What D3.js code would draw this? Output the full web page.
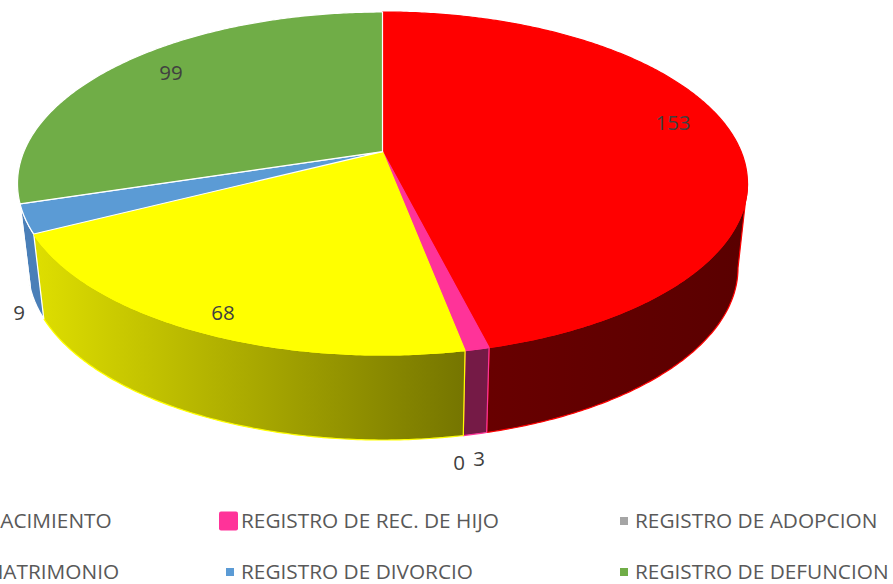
<!DOCTYPE html>
<html lang="es">
<head>
  <meta charset="UTF-8">
  <title>Registros</title>
  <script src="https://d3js.org/d3.v7.min.js" charset="utf-8"></script>
  <style>
    html, body { margin: 0; padding: 0; background: #fff; overflow: hidden; }
    text { font-family: "Open Sans", sans-serif; }
  </style>
</head>
<body>
  <div id="wrapper"></div>
  <script>
    const categories = [
      'REGISTRO DE NACIMIENTO',
      'REGISTRO DE REC. DE HIJO',
      'REGISTRO DE ADOPCION',
      'REGISTRO DE MATRIMONIO',
      'REGISTRO DE DIVORCIO',
      'REGISTRO DE DEFUNCION',
    ]
    const values = [153, 3, 0, 68, 9, 99]

    const topColors = ['#ff0000', '#ff3399', '#a5a5a5', '#ffff00', '#5b9bd5', '#70ad47']
    const edgeColors = ['#ff0000', '#ff3399', '#a5a5a5', '#ffff00', '#ffffff', '#ffffff']
    const sideStops = [
      ['#5a0000', '#680000'],
      ['#751a46', '#751a46'],
      ['#666666', '#666666'],
      ['#dddd00', '#757500'],
      ['#4a7fb8', '#4a7fb8'],
      ['#4c7a30', '#4c7a30'],
    ]

    const width = 893
    const height = 584

    // the tilted disc: the apex is not the middle of the ellipse
    const tilt = 0.186
    const topFace = { cx: 382.5, cy: 183.5, rx: 365, ry: 171.5 }
    const bottomFace = { cx: 383, cy: 268, rx: 355, ry: 172 }

    const project = (face, angle) => {
      const u = Math.sin(angle)
      const v = Math.cos(angle)
      const w = 1 + tilt * v
      return [
        face.cx + face.rx * u * Math.sqrt(1 - tilt * tilt) / w,
        face.cy - face.ry * (v + tilt) / w,
      ]
    }

    const arcPoints = (face, start, end) => {
      const n = Math.max(2, Math.ceil(Math.abs(end - start) / 0.01))
      return d3.range(n + 1).map(i => project(face, start + (end - start) * i / n))
    }

    const apex = face => [face.cx, face.cy - face.ry * tilt]
    const line = d3.line().curve(d3.curveLinear)

    const pie = d3.pie().sort(null).value(d => d)
    const slices = pie(values)

    const svg = d3.select('#wrapper')
      .append('svg')
        .attr('width', width)
        .attr('height', height)
        .style('display', 'block')

    const defs = svg.append('defs')
    sideStops.forEach((stops, i) => {
      const grad = defs.append('linearGradient')
        .attr('id', `side-${i}`)
        .attr('gradientUnits', 'userSpaceOnUse')
        .attr('x1', i === 0 ? 740 : 40)
        .attr('x2', i === 0 ? 490 : 465)
        .attr('y1', 0)
        .attr('y2', 0)
      grad.append('stop').attr('offset', 0).attr('stop-color', stops[0])
      grad.append('stop').attr('offset', 1).attr('stop-color', stops[1])
    })

    // sides, only the part of the rim that faces us
    const frontFrom = Math.acos(-tilt)
    const frontTo = 2 * Math.PI - frontFrom
    const sides = svg.append('g')
    slices.forEach((s, i) => {
      const from = Math.max(s.startAngle, frontFrom)
      const to = Math.min(s.endAngle, frontTo)
      if (to <= from) return
      const pts = arcPoints(topFace, from, to).concat(arcPoints(bottomFace, to, from))
      sides.append('path')
        .attr('d', line(pts) + 'Z')
        .attr('fill', `url(#side-${i})`)
        .attr('stroke', edgeColors[i])
        .attr('stroke-width', 1.2)
        .attr('stroke-linejoin', 'round')
    })

    const tops = svg.append('g')
    slices.forEach((s, i) => {
      if (s.value === 0) return
      const pts = [apex(topFace)].concat(arcPoints(topFace, s.startAngle, s.endAngle))
      tops.append('path')
        .attr('d', line(pts) + 'Z')
        .attr('fill', topColors[i])
        .attr('stroke', edgeColors[i])
        .attr('stroke-width', 1.2)
        .attr('stroke-linejoin', 'round')
    })

    // data labels
    const labelPos = [[673, 123], [479, 459], [459, 463], [223, 313], [19, 313], [171, 73]]
    svg.append('g').selectAll('text')
      .data(values)
      .join('text')
        .attr('x', (d, i) => labelPos[i][0])
        .attr('y', (d, i) => labelPos[i][1])
        .attr('dy', '0.36em')
        .attr('text-anchor', 'middle')
        .attr('font-size', 20.5)
        .attr('fill', '#404040')
        .text(d => d)

    // legend, the first column runs off the left of the page like the reference
    const legendX = [-150, 241, 635]
    const legendY = [521, 572]
    const legend = svg.append('g')
    const legendRows = [[0, 1, 2], [3, 4, 5]]
    legendRows.forEach((row, r) => {
      row.forEach((idx, c) => {
        const big = idx === 1
        const size = big ? 19 : 8
        legend.append('rect')
          .attr('x', big ? 219 : legendX[c] - 15)
          .attr('y', legendY[r] - size / 2)
          .attr('width', size)
          .attr('height', size)
          .attr('rx', big ? 2 : 0)
          .attr('fill', topColors[idx])
        legend.append('text')
          .attr('x', legendX[c])
          .attr('y', legendY[r])
          .attr('dy', '0.36em')
          .attr('font-size', 20.8)
          .attr('fill', '#595959')
          .text(categories[idx])
      })
    })
  </script>
</body>
</html>
